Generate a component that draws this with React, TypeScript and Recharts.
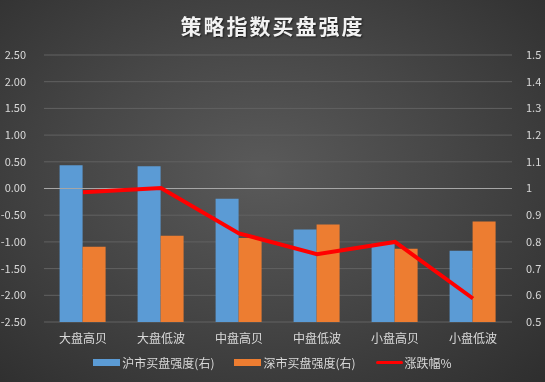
import { ComposedChart, Bar, Line, XAxis, YAxis, CartesianGrid, Legend, ReferenceLine } from "recharts";

const categories = ["大盘高贝", "大盘低波", "中盘高贝", "中盘低波", "小盘高贝", "小盘低波"];
const shBuy = [1.087, 1.083, 0.962, 0.846, 0.793, 0.767];
const szBuy = [0.782, 0.823, 0.815, 0.865, 0.774, 0.876];
const change = [-0.07, 0.01, -0.84, -1.23, -1.0, -2.06];
const leftTicks = [-2.5, -2, -1.5, -1, -0.5, 0, 0.5, 1, 1.5, 2, 2.5];
const rightTicks = [0.5, 0.6, 0.7, 0.8, 0.9, 1, 1.1, 1.2, 1.3, 1.4, 1.5];

const data = categories.map((name, i) => ({
  name,
  sh: shBuy[i],
  sz: szBuy[i],
  chg: change[i],
}));

const font = '"Noto Sans CJK SC", "Microsoft YaHei", sans-serif';
const textColor = "#d9d9d9";

const legendItems = [
  { label: "沪市买盘强度(右)", color: "#5b9bd5", kind: "bar" },
  { label: "深市买盘强度(右)", color: "#ed7d31", kind: "bar" },
  { label: "涨跌幅%", color: "#ff0000", kind: "line" },
];

function LegendContent() {
  return (
    <div style={{ display: "flex", justifyContent: "center", gap: 20, fontFamily: font, fontSize: 12, color: textColor }}>
      {legendItems.map((it) => (
        <div key={it.label} style={{ display: "flex", alignItems: "center" }}>
          <span
            style={{
              display: "inline-block",
              width: 27,
              height: it.kind === "bar" ? 7 : 3,
              background: it.color,
              borderRadius: it.kind === "line" ? 2 : 0,
              marginRight: 2,
            }}
          />
          {it.label}
        </div>
      ))}
    </div>
  );
}

export default function App() {
  return (
    <div
      style={{
        position: "fixed",
        left: 0,
        top: 0,
        width: 545,
        height: 382,
        background: "radial-gradient(ellipse at 48% 45%, #5a5a5a 0%, #474747 45%, #2e2e2e 100%)",
        fontFamily: font,
      }}
    >
      <div
        style={{
          position: "absolute",
          top: 10,
          width: 545,
          textAlign: "center",
          color: "#f2f2f2",
          fontSize: 21,
          fontWeight: "bold",
          letterSpacing: 2,
          textShadow: "1px 1px 2px rgba(0,0,0,0.6)",
        }}
      >
        策略指数买盘强度
      </div>
      <ComposedChart
        width={545}
        height={382}
        data={data}
        margin={{ top: 55, right: 0, left: 0, bottom: 18 }}
        barCategoryGap="20%"
        barGap={0}
      >
        <CartesianGrid vertical={false} stroke="#626262" yAxisId="left" />
        <XAxis
          dataKey="name"
          tick={{ fontSize: 12, fill: textColor, fontFamily: font }}
          tickLine={false}
          axisLine={false}
          height={25}
          tickMargin={6}
        />
        <YAxis
          yAxisId="left"
          orientation="left"
          domain={[-2.5, 2.5]}
          ticks={leftTicks}
          tickFormatter={(v: number) => v.toFixed(2)}
          tick={{ fontSize: 11, fill: textColor, fontFamily: font }}
          tickLine={false}
          axisLine={false}
          width={44}
          tickMargin={12}
          interval={0}
        />
        <YAxis
          yAxisId="right"
          orientation="right"
          domain={[0.5, 1.5]}
          ticks={rightTicks}
          tickFormatter={(v: number) => String(Math.round(v * 10) / 10)}
          tick={{ fontSize: 11, fill: textColor, fontFamily: font, textAnchor: "start" }}
          tickLine={false}
          axisLine={false}
          width={33}
          tickMargin={8}
          interval={0}
        />
        <ReferenceLine yAxisId="left" y={0} stroke="#a6a6a6" strokeWidth={1} />
        <Bar yAxisId="right" dataKey="sh" name="沪市买盘强度(右)" fill="#5b9bd5" isAnimationActive={false} />
        <Bar yAxisId="right" dataKey="sz" name="深市买盘强度(右)" fill="#ed7d31" isAnimationActive={false} />
        <Line
          yAxisId="left"
          dataKey="chg"
          name="涨跌幅%"
          stroke="#ff0000"
          strokeWidth={4}
          dot={false}
          activeDot={false}
          type="linear"
          isAnimationActive={false}
        />
        <Legend
          content={<LegendContent />}
          wrapperStyle={{ position: "absolute", top: 354, left: 0, width: 545 }}
        />
      </ComposedChart>
    </div>
  );
}
